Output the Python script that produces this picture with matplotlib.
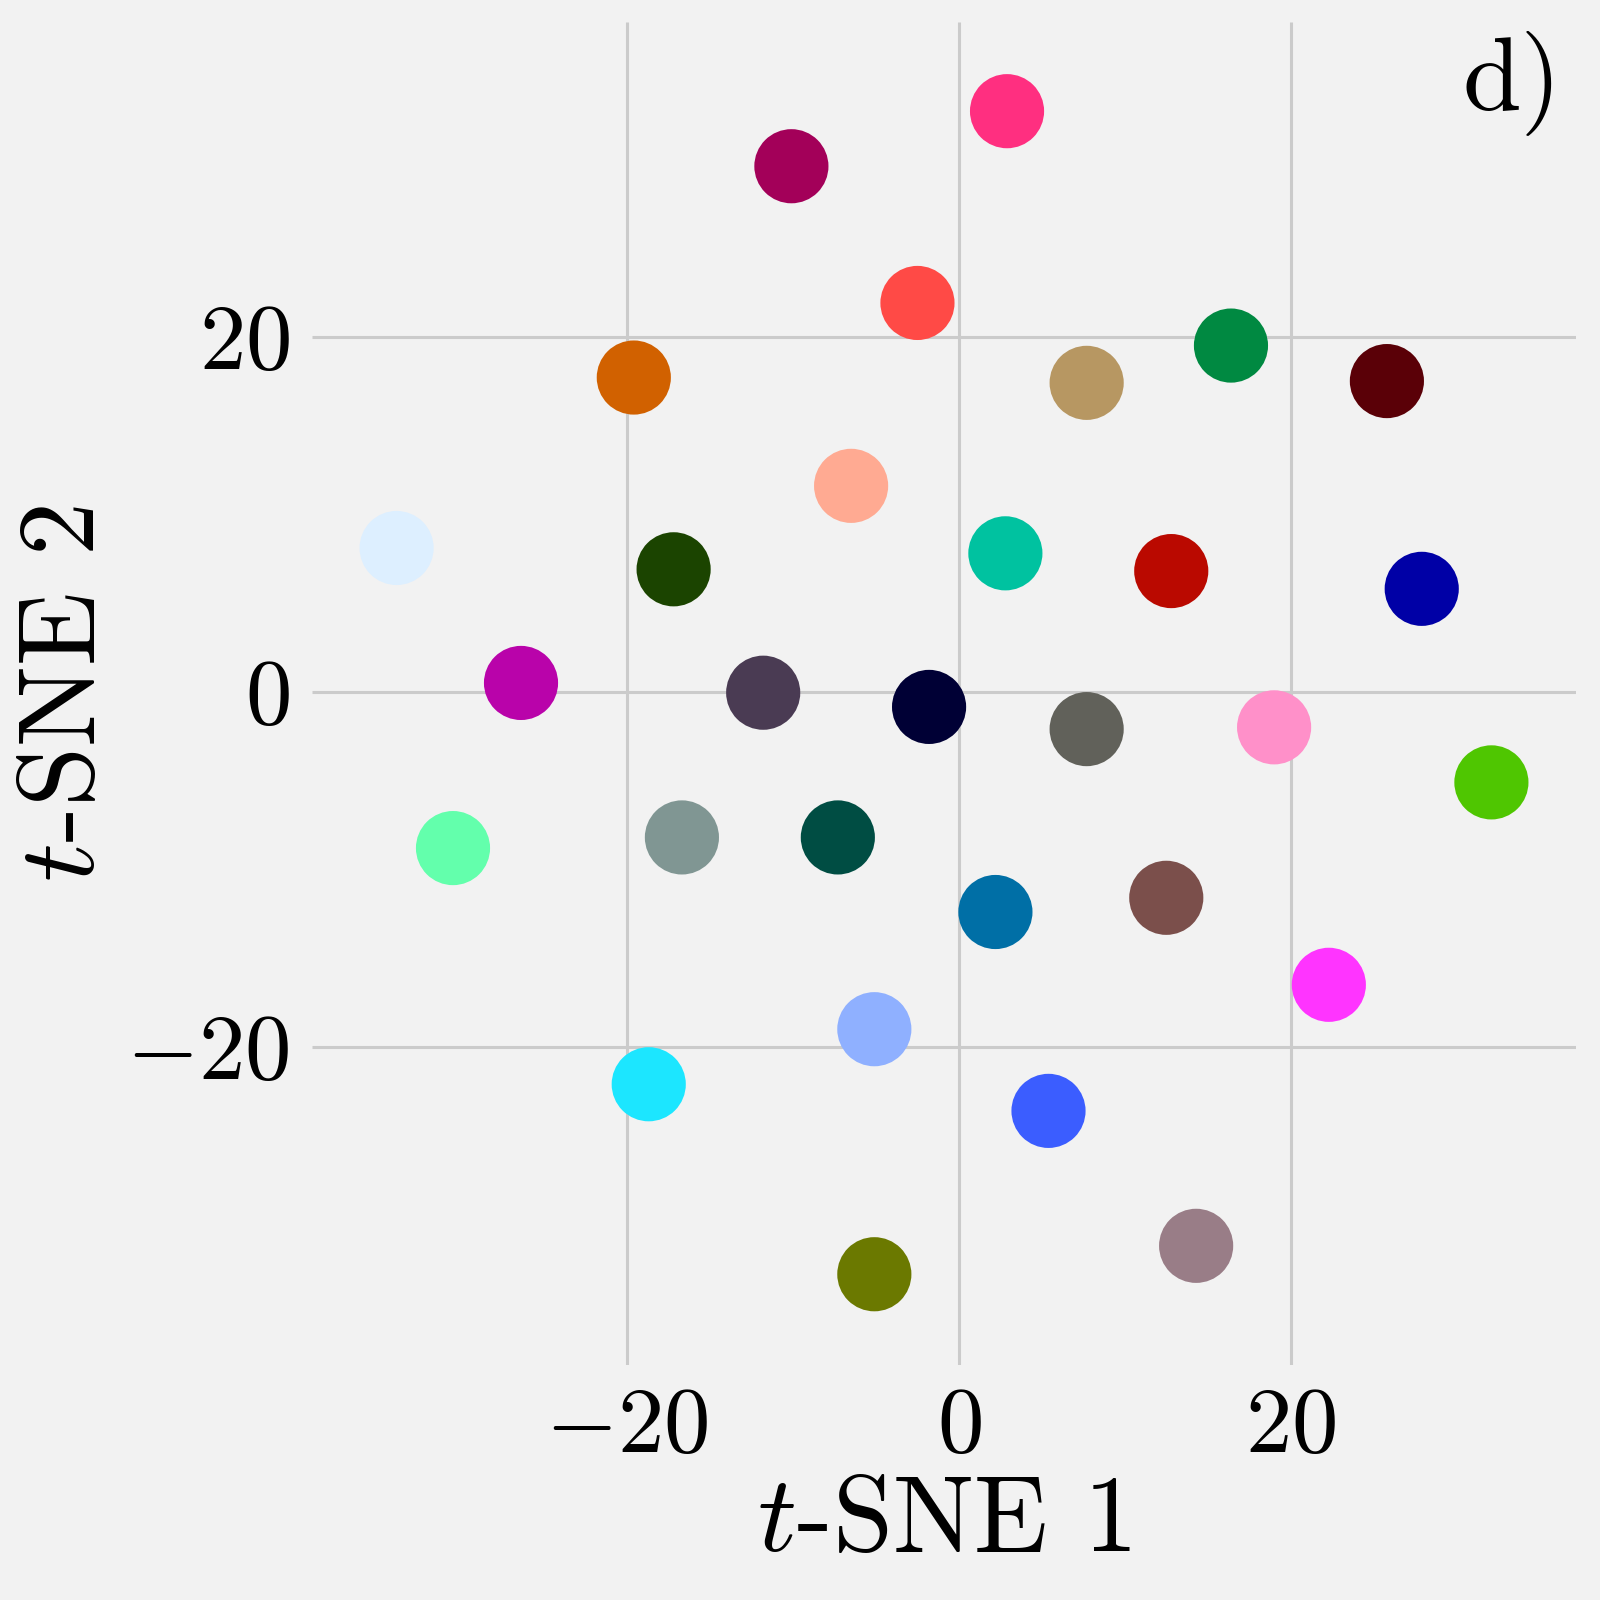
import numpy as np
from matplotlib import pyplot as plt

# cluster centres
tsne1 = [2.9, -10.1, -2.5, 16.4, 25.8, 7.7, -19.6, -6.5, -33.9, -17.2,
         2.8, 12.8, 27.9, -26.4, -11.8, -1.8, 7.7, 19.0, 32.1, -30.5,
         -16.7, -7.3, 2.2, 12.5, 22.3, -5.1, -18.7, 5.4, 14.3, -5.1]
tsne2 = [32.7, 29.6, 21.9, 19.5, 17.5, 17.4, 17.7, 11.6, 8.1, 6.9,
         7.8, 6.8, 5.8, 0.5, -0.05, -0.85, -2.1, -2.0, -5.1, -8.8,
         -8.2, -8.2, -12.4, -11.6, -16.5, -19.0, -22.1, -23.6, -31.2, -32.8]
colors = ['#FF2F80', '#A30059', '#FF4A46', '#008941', '#5A0007', '#B79762',
          '#D16100', '#FFAA92', '#DDEFFF', '#1B4400', '#00C2A0', '#BA0900',
          '#0000A6', '#B903AA', '#4A3B53', '#000035', '#61615A', '#FF90C9',
          '#4FC601', '#63FFAC', '#809693', '#004D43', '#006FA6', '#7B4F4B',
          '#FF34FF', '#8FB0FF', '#1CE6FF', '#3B5DFF', '#997D87', '#6B7900']

plt.style.use('fivethirtyeight')
plt.rcParams['font.family'] = 'serif'
plt.rcParams['font.serif'] = ['cmr10']
plt.rcParams['mathtext.fontset'] = 'cm'
plt.rcParams['axes.formatter.use_mathtext'] = True
plt.rcParams['axes.unicode_minus'] = True

bg = '#f2f2f2'
fig = plt.figure(figsize=(16, 16), dpi=100, facecolor=bg)
ax = fig.add_axes([0.195, 0.147, 0.79, 0.839])
ax.set_facecolor(bg)

ax.scatter(tsne1, tsne2, c=colors, s=2850, linewidths=0, zorder=3)

ax.set_xlim(-39.0, 37.2)
ax.set_ylim(-37.9, 37.7)
ax.set_xticks([-20, 0, 20])
ax.set_yticks([-20, 0, 20])
ax.grid(True, color='#cbcbcb', linewidth=2.2)
for s in ax.spines.values():
    s.set_visible(False)
ax.tick_params(labelsize=67, length=0, pad=16)

ax.set_xlabel(r'$t$-SNE 1', fontsize=78, labelpad=4)
ax.set_ylabel(r'$t$-SNE 2', fontsize=78, labelpad=8)

fig.text(1562/1600, 1 - 30/1600, 'd)', fontsize=76, ha='right', va='top')

plt.savefig('out.png', dpi=100, facecolor=bg)
